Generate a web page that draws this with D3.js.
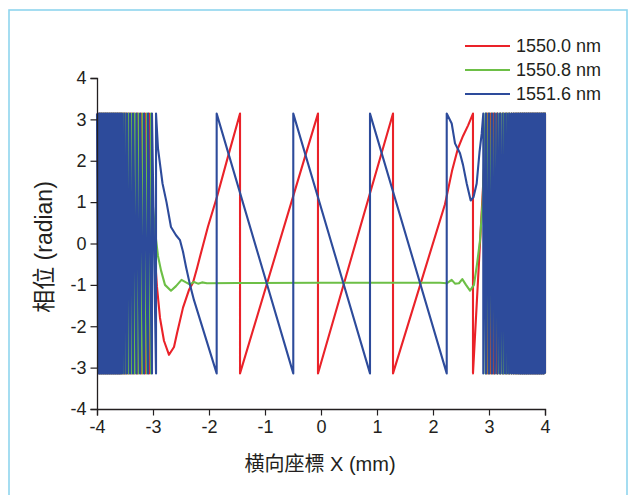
<!DOCTYPE html>
<html>
<head>
<meta charset="utf-8">
<script src="https://cdn.jsdelivr.net/npm/d3@7"></script>
<style>
  html, body { margin: 0; padding: 0; background: #fff; }
  svg { display: block; }
  text { font-family: "Liberation Sans", Arial, "Noto Sans CJK TC", sans-serif; fill: #231f20; }
</style>
</head>
<body>
<svg id="chart" width="635" height="495"></svg>
<script>
// ---------------- data ----------------
const seriesNames = ["1550.0 nm", "1550.8 nm", "1551.6 nm"];
const seriesColors = ["#ea2229", "#6dbf46", "#2d4b9b"];
const xTicks = [-4, -3, -2, -1, 0, 1, 2, 3, 4];
const yTicks = [-4, -3, -2, -1, 0, 1, 2, 3, 4];
const phaseMax = 3.14;   // wrapped phase limits (±π)

// positions (mm) of the phase wraps in the dense left region (ascending x)
const redLeftWraps = [-3.991, -3.955, -3.920, -3.884, -3.848, -3.813, -3.777, -3.741, -3.705, -3.670,
  -3.634, -3.602, -3.568, -3.530, -3.489, -3.443, -3.393, -3.339, -3.280, -3.214, -3.143, -3.071];
const greenLeftWraps = [-3.982, -3.946, -3.911, -3.875, -3.839, -3.804, -3.768, -3.732, -3.696, -3.661,
  -3.625, -3.589, -3.557, -3.518, -3.477, -3.429, -3.375, -3.321, -3.259, -3.188, -3.111, -3.036];
const blueLeftWraps = [-4.000, -3.979, -3.957, -3.936, -3.914, -3.893, -3.871, -3.850, -3.829, -3.807,
  -3.786, -3.764, -3.743, -3.721, -3.700, -3.679, -3.655, -3.632, -3.607, -3.580, -3.550, -3.509,
  -3.464, -3.411, -3.357, -3.295, -3.232, -3.161, -3.089, -3.018, -2.946];

// phase curve between the dense regions: [x (mm), phase (rad)]
const redCurve = [[-3.071, 3.14], [-3.036, 1.6], [-2.982, 0.0], [-2.929, -1.05], [-2.875, -1.8],
  [-2.804, -2.35], [-2.714, -2.69], [-2.625, -2.5], [-2.571, -2.17], [-2.464, -1.55], [-2.357, -1.12],
  [-2.286, -0.95], [-2.214, -0.6], [-2.161, -0.32], [-2.018, 0.41], [-1.857, 1.13], [-1.661, 2.1],
  [-1.446, 3.14], [-1.446, -3.14], [-0.054, 3.14], [-0.054, -3.14], [1.286, 3.14], [1.286, -3.14],
  [2.214, 0.95], [2.339, 1.75], [2.446, 2.3], [2.536, 2.6], [2.625, 2.85], [2.714, 3.14],
  [2.714, -3.14], [2.964, 3.14]];
const greenCurve = [[-3.036, 3.14], [-3.009, 1.04], [-2.964, 0.3], [-2.911, -0.3], [-2.857, -0.65],
  [-2.786, -1.0], [-2.679, -1.14], [-2.589, -1.03], [-2.491, -0.88], [-2.411, -0.94], [-2.339, -0.99],
  [-2.268, -0.93], [-2.196, -0.97], [-2.125, -0.94], [-2.036, -0.96], [-1.5, -0.955], [0.0, -0.95],
  [1.5, -0.95], [2.125, -0.95], [2.25, -0.96], [2.334, -0.88], [2.393, -0.97], [2.464, -0.96],
  [2.523, -0.86], [2.589, -1.0], [2.661, -1.14], [2.732, -1.0], [2.786, -0.5], [2.839, 0.07],
  [2.888, 1.04], [2.911, 2.0], [2.938, 3.14]];
const blueCurve = [[-2.946, 3.14], [-2.911, 2.3], [-2.830, 1.45], [-2.759, 1.0], [-2.679, 0.4],
  [-2.589, 0.2], [-2.518, 0.08], [-2.464, -0.2], [-2.411, -0.56], [-2.339, -1.0], [-2.268, -1.37],
  [-1.863, -3.14], [-1.863, 3.14], [-0.495, -3.14], [-0.495, 3.14], [0.875, -3.14], [0.875, 3.14],
  [2.245, -3.14], [2.245, 3.14], [2.334, 2.9], [2.393, 2.42], [2.482, 2.18], [2.536, 1.9],
  [2.602, 1.45], [2.673, 1.04], [2.723, 1.12], [2.780, 1.45], [2.830, 2.2], [2.870, 2.66], [2.898, 3.14]];

// positions (mm) of the phase wraps in the dense right region (ascending x)
const redRightWraps = [2.964, 3.018, 3.080, 3.143, 3.200, 3.255, 3.307, 3.357, 3.404, 3.446, 3.488,
  3.527, 3.564, 3.600, 3.634, 3.668, 3.702, 3.736, 3.770, 3.804, 3.838, 3.871, 3.905, 3.939, 3.973, 4.000];
const greenRightWraps = [2.938, 2.991, 3.048, 3.104, 3.157, 3.209, 3.259, 3.307, 3.354, 3.398, 3.441,
  3.482, 3.521, 3.561, 3.598, 3.636, 3.673, 3.711, 3.748, 3.786, 3.823, 3.861, 3.898, 3.936, 3.973, 4.000];
const blueRightWraps = [2.898, 2.946, 3.000, 3.054, 3.104, 3.152, 3.196, 3.241, 3.286, 3.327, 3.366,
  3.404, 3.439, 3.473, 3.505, 3.536, 3.563, 3.589, 3.613, 3.636, 3.659, 3.682, 3.705, 3.729, 3.752,
  3.775, 3.798, 3.821, 3.845, 3.868, 3.891, 3.914, 3.938, 3.961, 3.982, 4.000];

// ---------------- build (wrapped phase: sawtooth through the wraps) ----------------
function buildPoints(leftWraps, curve, rightWraps) {
  const pts = [];
  leftWraps.forEach((w, i) => {
    if (i > 0) pts.push([w, -phaseMax]);
    pts.push([w, phaseMax]);
  });
  curve.forEach(p => pts.push(p));
  rightWraps.forEach(w => {
    pts.push([w, phaseMax]);
    pts.push([w, -phaseMax]);
  });
  return pts;
}
const series = [
  buildPoints(redLeftWraps, redCurve, redRightWraps),
  buildPoints(greenLeftWraps, greenCurve, greenRightWraps),
  buildPoints(blueLeftWraps, blueCurve, blueRightWraps)
];

const svg = d3.select("#chart");
svg.append("rect").attr("x", 9).attr("y", 10).attr("width", 618).attr("height", 500)
  .attr("fill", "none").attr("stroke", "#8fd5ee").attr("stroke-width", 1.6);

const x = d3.scaleLinear().domain([-4, 4]).range([97, 545]);
const y = d3.scaleLinear().domain([-4, 4]).range([409, 78]);

const line = d3.line().x(d => x(d[0])).y(d => y(d[1]));
series.forEach((pts, i) => {
  svg.append("path").datum(pts).attr("d", line)
    .attr("fill", "none").attr("stroke", seriesColors[i])
    .attr("stroke-width", 2.1).attr("stroke-linejoin", "round");
});

// axes
const minorX = d3.range(-3.5, 4, 1);
const minorY = d3.range(-3.5, 4, 1);
const gx = svg.append("g").attr("transform", `translate(0,${y(-4)})`);
gx.call(d3.axisBottom(x).tickValues(minorX).tickSize(3.5).tickFormat(""));
gx.call(d3.axisBottom(x).tickValues(xTicks).tickSize(6.5).tickPadding(5).tickFormat(d3.format("d")));
const gy = svg.append("g").attr("transform", `translate(${x(-4)},0)`);
gy.call(d3.axisLeft(y).tickValues(minorY).tickSize(3.5).tickFormat(""));
gy.call(d3.axisLeft(y).tickValues(yTicks).tickSize(6.5).tickPadding(4).tickFormat(d3.format("d")));
[gx, gy].forEach(g => {
  g.selectAll("path").attr("stroke", "#231f20").attr("stroke-width", 1.3);
  g.selectAll("line").attr("stroke", "#231f20").attr("stroke-width", 1.2);
  g.selectAll("text").attr("font-size", 18).attr("font-family", "Liberation Sans, Arial, sans-serif").attr("fill", "#231f20");
});
gx.selectAll("text").text(d => d < 0 ? "-" + Math.abs(d) : d);
gy.selectAll("text").text(d => d < 0 ? "-" + Math.abs(d) : d);

// axis titles
svg.append("text").attr("x", 320).attr("y", 471).attr("text-anchor", "middle")
  .attr("font-size", 20).text("横向座標 X (mm)");
svg.append("text").attr("transform", "translate(52,247) rotate(-90)").attr("text-anchor", "middle")
  .attr("font-size", 23).text("相位 (radian)");

// legend
const lg = svg.append("g");
seriesNames.forEach((name, i) => {
  const yy = 46 + i * 24;
  lg.append("line").attr("x1", 465).attr("x2", 510).attr("y1", yy).attr("y2", yy)
    .attr("stroke", seriesColors[i]).attr("stroke-width", 2.2);
  lg.append("text").attr("x", 516).attr("y", yy).attr("dy", "0.35em")
    .attr("font-size", 18).text(name);
});
</script>
</body>
</html>
